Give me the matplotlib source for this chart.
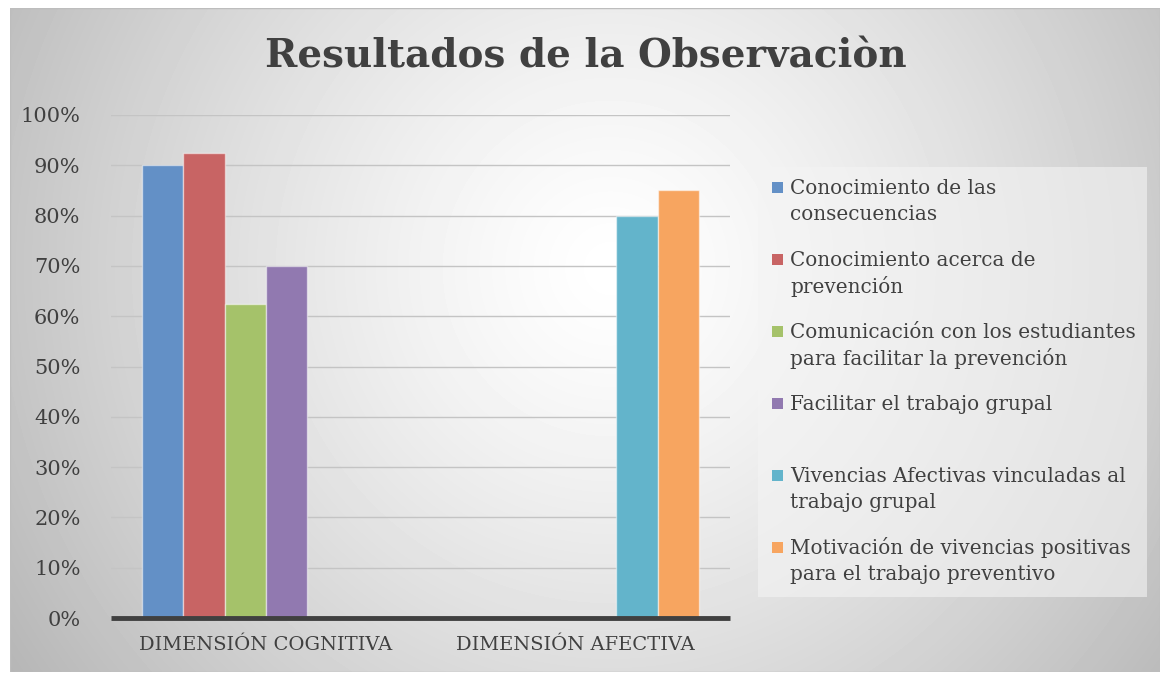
import matplotlib.pyplot as plt
from matplotlib.patches import Rectangle
import numpy as np

categories = ["DIMENSIÓN COGNITIVA", "DIMENSIÓN AFECTIVA"]
series = [
    "Conocimiento de las\nconsecuencias",
    "Conocimiento acerca de\nprevención",
    "Comunicación con los estudiantes\npara facilitar la prevención",
    "Facilitar el trabajo grupal",
    "Vivencias Afectivas vinculadas al\ntrabajo grupal",
    "Motivación de vivencias positivas\npara el trabajo preventivo",
]
cognitiva = [0.90, 0.925, 0.625, 0.70, 0, 0]
afectiva = [0, 0, 0, 0, 0.80, 0.85]
colors = ["#6390c6", "#c86464", "#a5c26a", "#9179b0", "#63b4cb", "#f7a560"]
yticks = [0, 0.1, 0.2, 0.3, 0.4, 0.5, 0.6, 0.7, 0.8, 0.9, 1.0]

W, H = 1162, 675
fig = plt.figure(figsize=(W / 100, H / 100), dpi=100)
fig.patch.set_facecolor("white")

# radial gray gradient for the chart area
bg = fig.add_axes([10 / W, 3 / H, 1150 / W, 664 / H])
yy, xx = np.mgrid[0:664, 0:1150]
d = np.hypot(xx - 600, yy - 260) / 650
grad = np.clip(1 - 0.25 * d ** 1.3, 0, 1)
bg.imshow(grad, cmap="gray", vmin=0, vmax=1, aspect="auto", extent=[0, 1, 0, 1])
bg.set_axis_off()
bg.add_patch(Rectangle((0, 0), 1, 1, transform=bg.transAxes, fill=False,
                       edgecolor="#bdbdbd", lw=1))

ax = fig.add_axes([111 / W, 57 / H, 619 / W, 503 / H])
ax.patch.set_alpha(0)
x = np.arange(len(categories))
w = 0.133
values = [[cognitiva[i], afectiva[i]] for i in range(len(series))]
for i, vals in enumerate(values):
    ax.bar(x + (i - 2.5) * w, vals, w, color=colors[i],
           edgecolor=(1, 1, 1, 0.5), lw=1, zorder=3)

ax.set_xlim(-0.5, 1.5)
ax.set_ylim(0, 1.0)
ax.set_yticks(yticks)
ax.set_yticklabels([f"{int(round(t * 100))}%" for t in yticks])
ax.set_xticks(x)
ax.set_xticklabels(categories)
ax.tick_params(axis="both", length=0, labelsize=15, labelcolor="#404040")
ax.tick_params(axis="x", labelsize=14, pad=13)
ax.tick_params(axis="y", pad=22)
for lbl in ax.get_xticklabels() + ax.get_yticklabels():
    lbl.set_family("DejaVu Serif")
for s in ax.spines.values():
    s.set_visible(False)
ax.grid(axis="y", color="#c4c4c4", lw=1, zorder=0)
ax.axhline(0, color="#404040", lw=3.5, zorder=4, solid_capstyle="butt", clip_on=False)

fig.text(586 / W, 1 - 57 / H, "Resultados de la Observaciòn", ha="center", va="center",
         fontsize=28, fontweight="bold", color="#404040", family="DejaVu Serif")

# legend drawn by hand to keep Excel-like spacing
fig.patches.append(Rectangle((758 / W, 1 - 597 / H), 389 / W, 430 / H,
                             transform=fig.transFigure, facecolor="#f4f4f4",
                             alpha=0.6, edgecolor="none"))
for i, label in enumerate(series):
    y0 = 188 + 72 * i
    fig.patches.append(Rectangle((772 / W, 1 - (y0 + 5) / H), 11 / W, 11 / H,
                                 transform=fig.transFigure, facecolor=colors[i],
                                 edgecolor="none"))
    for j, line in enumerate(label.split("\n")):
        fig.text(790 / W, 1 - (y0 + 27 * j) / H, line, ha="left", va="center",
                 fontsize=14.4, color="#404040", family="DejaVu Serif")

plt.savefig("out.png", dpi=100)
